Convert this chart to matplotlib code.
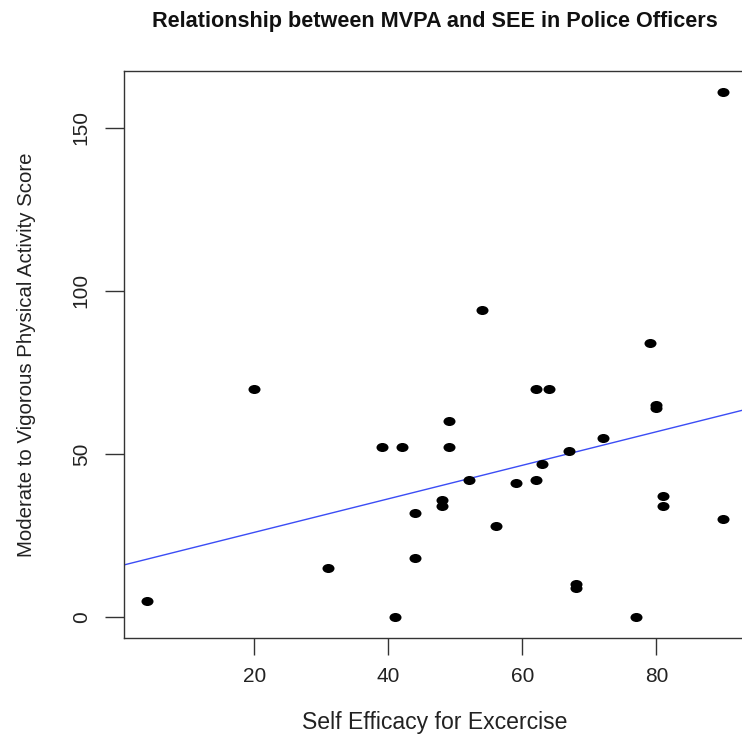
import matplotlib
matplotlib.use('Agg')
import matplotlib.pyplot as plt
from matplotlib.path import Path
from matplotlib.transforms import Affine2D
import numpy as np

# ------------------------------------------------------------
# data (SEE vs MVPA)
# ------------------------------------------------------------
see = [4, 20, 31, 39, 41, 42, 44, 44, 48, 48, 49, 49, 52, 54, 56, 59,
       62, 62, 63, 64, 67, 68, 68, 72, 77, 79, 80, 80, 81, 81, 90, 90]
mvpa = [5, 70, 15, 52, 0, 52, 32, 18, 36, 34, 60, 52, 42, 94, 28, 41,
        70, 42, 47, 70, 51, 10, 9, 55, 0, 84, 65, 64, 37, 34, 30, 161]
x_ticks = [20, 40, 60, 80]
y_ticks = [0, 50, 100, 150]

FONT = 'Liberation Sans'
plt.rcParams.update({
    'font.family': FONT,
    'font.size': 13,
    'axes.linewidth': 1.0,
    'axes.edgecolor': '#333333',
})

W, H = 742, 736
fig = plt.figure(figsize=(W / 100, H / 100), dpi=100)

# the source image is cropped on the right, so the box runs past the edge
left, right, top, bottom = 124, 746.5, 71, 638
ax = fig.add_axes([left / W, 1 - bottom / H, (right - left) / W, (bottom - top) / H])

# R-style 4% padding
xr = max(see) - min(see)
yr = max(mvpa) - min(mvpa)
ax.set_xlim(min(see) - 0.04 * xr, max(see) + 0.04 * xr)
ax.set_ylim(min(mvpa) - 0.04 * yr, max(mvpa) + 0.04 * yr)

# the reference is stretched sideways -> oval dots
oval = Path.unit_circle().transformed(Affine2D().scale(1.33, 1.0))
ax.scatter(see, mvpa, s=75, marker=oval, color='black', linewidths=0, zorder=3)

slope, icpt = np.polyfit(see, mvpa, 1)
xs = np.array(ax.get_xlim())
ax.plot(xs, icpt + slope * xs, color='#3b4cf5', linewidth=1.0, zorder=2)
ax.set_xlim(xs)

ax.set_xticks(x_ticks)
ax.set_yticks(y_ticks)
ax.set_yticklabels([str(v) for v in y_ticks], rotation=90, va='center')
ax.tick_params(direction='out', width=1.0, colors='#333333',
               labelcolor='#222222', labelsize=15)
ax.tick_params(axis='x', length=12, pad=9)
ax.tick_params(axis='y', length=14, pad=10)
ax.spines['right'].set_visible(False)

ax.set_xlabel('Self Efficacy for Excercise', fontsize=16.6, color='#222222', labelpad=18)
ax.set_ylabel('Moderate to Vigorous Physical Activity Score', fontsize=14.7,
              color='#222222', labelpad=26)
fig.text(0.5 * (150 + 720) / W, 1 - 21 / H, 'Relationship between MVPA and SEE in Police Officers',
         ha='center', va='center', fontsize=15.6, fontweight='bold', color='#111111')

fig.savefig('out.png', dpi=100, facecolor='white')
